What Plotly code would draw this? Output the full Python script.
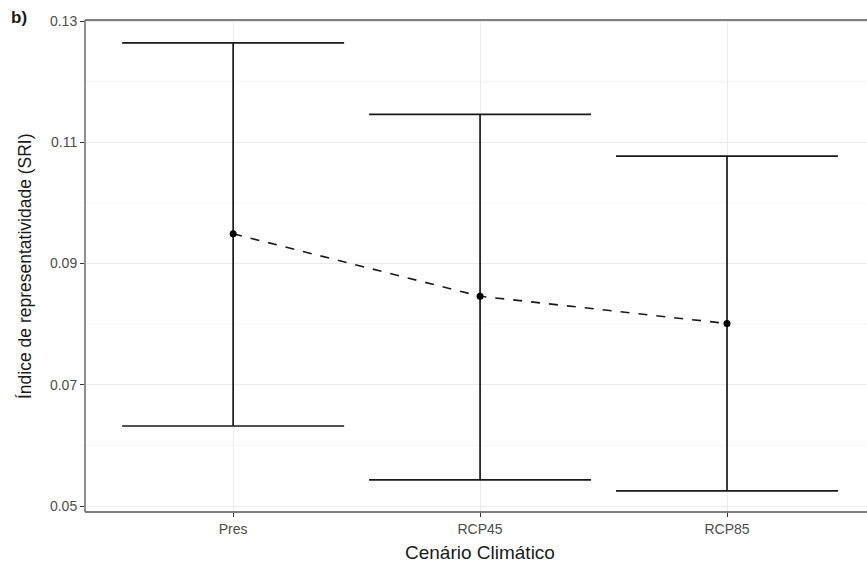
import plotly.graph_objects as go

categories = ["Pres", "RCP45", "RCP85"]
mean_sri = [0.0949, 0.0846, 0.0801]
upper_sri = [0.1264, 0.1146, 0.1077]
lower_sri = [0.0632, 0.0543, 0.0525]
y_ticks = [0.05, 0.07, 0.09, 0.11, 0.13]
y_minor = [0.06, 0.08, 0.10, 0.12]

xpos = list(range(len(categories)))
err_plus = [u - m for u, m in zip(upper_sri, mean_sri)]
err_minus = [m - l for m, l in zip(mean_sri, lower_sri)]

W, H = 867, 567
l, r, t, b = 85, 0, 20, 55
pw, ph = W - l - r, H - t - b

fig = go.Figure()

# minor gridlines
for v in y_minor:
    fig.add_shape(type="line", xref="paper", yref="y", x0=0, x1=1, y0=v, y1=v,
                  line=dict(color="#f3f3f3", width=0.8), layer="below")

# panel border: top, left, bottom
fig.add_shape(type="line", xref="paper", yref="paper", x0=0, x1=1, y0=1, y1=1,
              line=dict(color="#555555", width=1.3))
fig.add_shape(type="line", xref="paper", yref="paper", x0=0, x1=1, y0=0, y1=0,
              line=dict(color="#555555", width=1.3))
fig.add_shape(type="line", xref="paper", yref="paper", x0=0, x1=0, y0=0, y1=1,
              line=dict(color="#555555", width=1.3))

# error bars
fig.add_trace(go.Scatter(
    x=xpos, y=mean_sri, mode="markers",
    marker=dict(size=0.1, color="rgba(0,0,0,0)"),
    error_y=dict(type="data", symmetric=False, array=err_plus, arrayminus=err_minus,
                 color="#1a1a1a", thickness=1.7, width=111),
    showlegend=False, hoverinfo="skip"))

# dashed line with points
fig.add_trace(go.Scatter(
    x=xpos, y=mean_sri, mode="lines+markers",
    line=dict(color="#1a1a1a", width=1.6, dash="dash"),
    marker=dict(size=7, color="black"),
    showlegend=False))

fig.update_layout(
    width=W, height=H,
    margin=dict(l=l, r=r, t=t, b=b),
    plot_bgcolor="white", paper_bgcolor="white",
    font=dict(family="Liberation Sans, Arial, sans-serif", color="#4d4d4d"),
    xaxis=dict(
        range=[-0.6, 2.567], tickvals=xpos, ticktext=categories,
        showgrid=True, gridcolor="#ebebeb", gridwidth=1,
        showline=False,
        ticks="outside", ticklen=4, tickcolor="#333333", tickwidth=1.2,
        tickfont=dict(size=14, color="#4d4d4d"), zeroline=False,
    ),
    yaxis=dict(
        range=[0.04901, 0.13017], tickvals=y_ticks,
        ticktext=[f"{v:.2f}" for v in y_ticks],
        showgrid=True, gridcolor="#ebebeb", gridwidth=1,
        showline=False,
        ticks="outside", ticklen=4, tickcolor="#333333", tickwidth=1.2,
        tickfont=dict(size=14, color="#4d4d4d"), zeroline=False,
    ),
    annotations=[
        dict(text="Cenário Climático", x=1, xref="x",
             y=(H - b - 552) / ph, yref="paper", yanchor="middle",
             showarrow=False, font=dict(size=19, color="#1a1a1a")),
        dict(text="Índice de representatividade (SRI)",
             x=(25 - l) / pw, xref="paper", xanchor="center",
             y=0.5, yref="paper", textangle=-90, showarrow=False,
             font=dict(size=17.5, color="#1a1a1a")),
        dict(text="<b>b)</b>", x=(19 - l) / pw, xref="paper", xanchor="center",
             y=(H - b - 18) / ph, yref="paper", yanchor="middle",
             showarrow=False, font=dict(size=17, color="#1a1a1a")),
    ],
)

fig.write_html("out.html")
